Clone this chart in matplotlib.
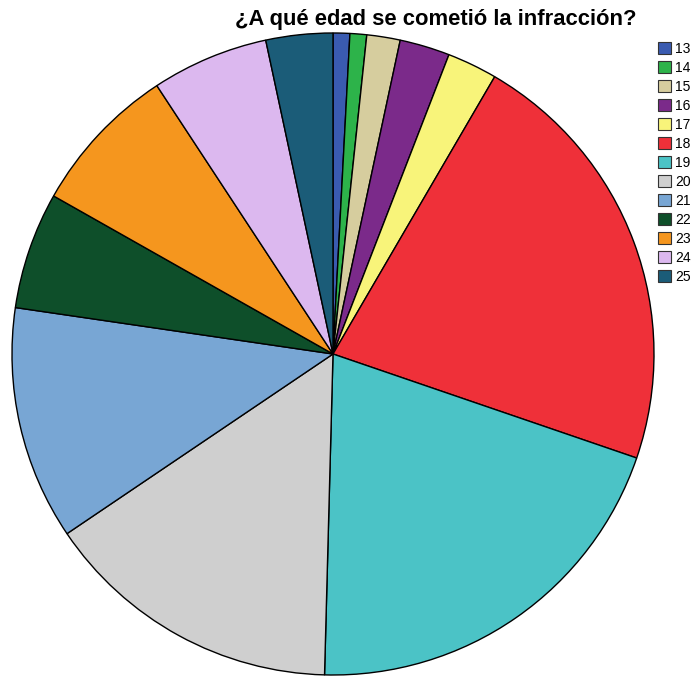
import matplotlib
matplotlib.use("Agg")
import matplotlib.pyplot as plt
from matplotlib.patches import Patch

# edad al cometer la infraccion -> numero de casos
edades = ['13', '14', '15', '16', '17', '18', '19', '20', '21', '22', '23', '24', '25']
casos = [1, 1, 2, 3, 3, 26, 24, 18, 14, 7, 9, 7, 4]
colores = ['#3a5bb0', '#2db34a', '#d6cd9e', '#7b2a8a', '#f8f47a', '#ef3039', '#4bc3c6',
           '#cfcfcf', '#78a6d4', '#0e4f2a', '#f5961e', '#dcb8ef', '#1b5c78']

plt.rcParams['font.family'] = ['Liberation Sans', 'DejaVu Sans']

fig = plt.figure(figsize=(6.95, 6.77), dpi=100)
ax = fig.add_axes([12/695, 2/677, 642/695, 642/677])
ax.pie(casos, colors=colores, startangle=90, counterclock=False,
       wedgeprops=dict(edgecolor='black', linewidth=1.0))
ax.set_xlim(-1.0, 1.0)
ax.set_ylim(-1.0, 1.0)
ax.set_aspect('equal')
ax.axis('off')

fig.text(436/695, 1 - 20/677, '¿A qué edad se cometió la infracción?', ha='center', va='center',
         fontsize=15.8, fontweight='bold')

handles = [Patch(facecolor=c, edgecolor='#333333', linewidth=0.8) for c in colores]
leg = fig.legend(handles, edades, loc='upper left', bbox_to_anchor=(658/695, 1 - 42/677),
                 frameon=False, fontsize=10, handlelength=0.95, handleheight=0.95,
                 handletextpad=0.3, labelspacing=0.36, borderpad=0, borderaxespad=0)

fig.savefig('out.png', dpi=100)
